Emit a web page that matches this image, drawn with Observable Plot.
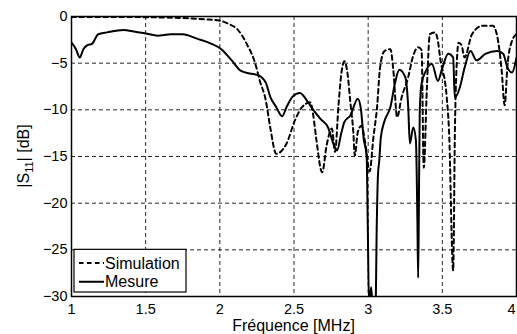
<!DOCTYPE html>
<html><head><meta charset="utf-8">
<script src="https://cdn.jsdelivr.net/npm/d3@7"></script>
<script src="https://cdn.jsdelivr.net/npm/@observablehq/plot@0.6"></script>
<style>body{margin:0;background:#fff} svg{display:block}</style>
</head><body><div id="chart"></div>
<script>
const simFreq = [1.00,1.30,1.60,1.80,1.90,2.00,2.06,2.12,2.18,2.24,2.27,2.31,2.34,2.38,2.45,2.507,2.55,2.61,2.63,2.65,2.69,2.72,2.755,2.777,2.80,2.82,2.84,2.86,2.88,2.90,2.91,2.93,2.955,2.98,3.01,3.035,3.06,3.08,3.11,3.15,3.17,3.195,3.225,3.27,3.30,3.337,3.36,3.375,3.396,3.416,3.45,3.47,3.485,3.53,3.545,3.573,3.585,3.595,3.61,3.63,3.65,3.70,3.77,3.84,3.87,3.90,3.92,3.94,3.97,4.00];
const simDb   = [-0.05,-0.05,-0.1,-0.2,-0.3,-0.45,-0.8,-1.4,-2.9,-5.1,-6.9,-9.0,-11.9,-14.7,-13.6,-11.1,-9.8,-9.2,-10.6,-13.1,-16.7,-13.8,-12.0,-14.5,-9.5,-6.0,-4.8,-6.0,-9.2,-12.4,-14.9,-12.4,-11.7,-13.5,-16.6,-13.0,-9.7,-5.5,-3.7,-3.5,-5.8,-10.8,-8.7,-6.5,-4.4,-3.3,-3.6,-16.2,-7.6,-1.9,-1.7,-2.6,-4.4,-8.7,-12.2,-27.2,-12.0,-5.8,-2.8,-3.1,-4.4,-1.9,-1.0,-1.0,-2.1,-5.8,-9.5,-5.1,-2.6,-1.9];
const mesFreq = [1.00,1.03,1.056,1.08,1.105,1.14,1.18,1.24,1.35,1.42,1.51,1.58,1.67,1.75,1.85,1.94,2.01,2.08,2.14,2.20,2.26,2.31,2.34,2.38,2.42,2.45,2.49,2.54,2.595,2.63,2.68,2.73,2.763,2.79,2.82,2.84,2.88,2.93,2.95,2.97,2.99,2.997,3.006,3.02,3.035,3.05,3.058,3.066,3.075,3.085,3.11,3.15,3.18,3.21,3.25,3.27,3.281,3.304,3.322,3.332,3.337,3.342,3.348,3.36,3.39,3.43,3.47,3.50,3.54,3.573,3.584,3.618,3.65,3.69,3.73,3.79,3.87,3.91,3.94,3.97,4.00];
const mesDb   = [-2.8,-3.5,-4.4,-3.5,-3.1,-2.9,-1.9,-1.7,-1.45,-1.6,-1.85,-2.05,-1.9,-1.9,-2.4,-2.9,-3.5,-4.7,-5.8,-6.1,-6.3,-7.1,-8.6,-9.7,-10.7,-9.7,-8.6,-8.2,-9.2,-10.0,-11.0,-11.9,-13.5,-14.35,-12.4,-11.3,-10.6,-8.8,-9.8,-13.1,-15.0,-22.0,-31.0,-29.0,-32.0,-31.0,-22.3,-17.0,-15.4,-13.0,-11.2,-9.7,-7.2,-5.7,-6.5,-9.7,-13.6,-11.9,-13.3,-22.0,-28.0,-20.0,-10.0,-7.2,-5.8,-5.1,-6.9,-5.5,-4.0,-4.4,-8.7,-7.6,-5.5,-3.7,-4.7,-4.0,-3.7,-4.0,-5.5,-6.0,-4.4];
const xTicks = [1,1.5,2,2.5,3,3.5,4];
const yTicks = [-30,-25,-20,-15,-10,-5,0];
const seriesNames = ["Simulation","Mesure"];
const xLabel = "Fréquence [MHz]";
const yLabelParts = ["|S", "11", "| [dB]"];

const sim = simFreq.map((f,i)=>({f, db: simDb[i]}));
const mes = mesFreq.map((f,i)=>({f, db: mesDb[i]}));
const font = "'Liberation Sans', Arial, Helvetica, sans-serif";
const gridStyle = {stroke:"#000", strokeOpacity:0.85, strokeWidth:1, strokeDasharray:"4,3"};

const plot = Plot.plot({
  width: 517, height: 334,
  marginLeft: 71, marginRight: 1, marginTop: 16, marginBottom: 38,
  style: {fontFamily: font, fontSize: "14.5px", background: "#fff", color: "#000", overflow: "visible"},
  x: {domain: [1,4], label: null},
  y: {domain: [-30,0], label: null},
  marks: [
    Plot.ruleX(xTicks.slice(1,-1), gridStyle),
    Plot.ruleY(yTicks.slice(1,-1), gridStyle),
    Plot.line(sim, {x:"f", y:"db", stroke:"#000", strokeWidth:2, strokeDasharray:"4.5,3.5", curve:"monotone-x", clip:true}),
    Plot.line(mes, {x:"f", y:"db", stroke:"#000", strokeWidth:2, curve:"monotone-x", clip:true}),
    Plot.frame({stroke:"#000", strokeWidth:1.5}),
    Plot.axisX({ticks: xTicks, tickSize: 0, tickPadding: 7, tickFormat: d => String(d), label: null}),
    Plot.axisY({ticks: yTicks, tickSize: 0, tickPadding: 4, label: null})
  ]
});
document.getElementById("chart").appendChild(plot);

const svg = d3.select(plot);
const xs = plot.scale("x"), ys = plot.scale("y");
const x0 = xs.apply(1), x1 = xs.apply(4), y0 = ys.apply(0), y1 = ys.apply(-30);

// keep the last x tick label inside the picture
svg.selectAll("text").filter(function(){ return this.textContent === String(xTicks[xTicks.length-1]); })
  .attr("text-anchor", "end").attr("dx", -1);

// x label
svg.append("text").attr("x", (x0+x1)/2).attr("y", y1 + 35)
  .attr("text-anchor","middle").attr("font-family", font).attr("font-size", 16).attr("fill","#000")
  .text(xLabel);

// y label with subscript
const yl = svg.append("text")
  .attr("transform", `translate(29,${(y0+y1)/2}) rotate(-90)`)
  .attr("text-anchor","middle").attr("font-family", font).attr("font-size", 16).attr("fill","#000");
yl.append("tspan").text(yLabelParts[0]);
yl.append("tspan").attr("font-size", 11).attr("dy", 4).text(yLabelParts[1]);
yl.append("tspan").attr("dy", -4).text(yLabelParts[2]);

// legend
const lg = svg.append("g").attr("text-anchor","start");
const lx = x0 + 3, ly = ys.apply(-25), lw = 112, lh = y1 - 4 - ly;
lg.append("rect").attr("x", lx).attr("y", ly).attr("width", lw).attr("height", lh)
  .attr("fill","#fff").attr("stroke","#000").attr("stroke-width",1.2);
const rows = [ly + lh*0.32, ly + lh*0.76];
seriesNames.forEach((name, i) => {
  lg.append("line").attr("x1", lx+5).attr("x2", lx+30).attr("y1", rows[i]).attr("y2", rows[i])
    .attr("stroke","#000").attr("stroke-width",2).attr("stroke-dasharray", i===0 ? "4.5,3.5" : null);
  lg.append("text").attr("x", lx+31).attr("y", rows[i]).attr("dy","0.35em").attr("text-anchor","start")
    .attr("font-family", font).attr("font-size", 16).attr("fill","#000").text(name);
});
</script></body></html>
